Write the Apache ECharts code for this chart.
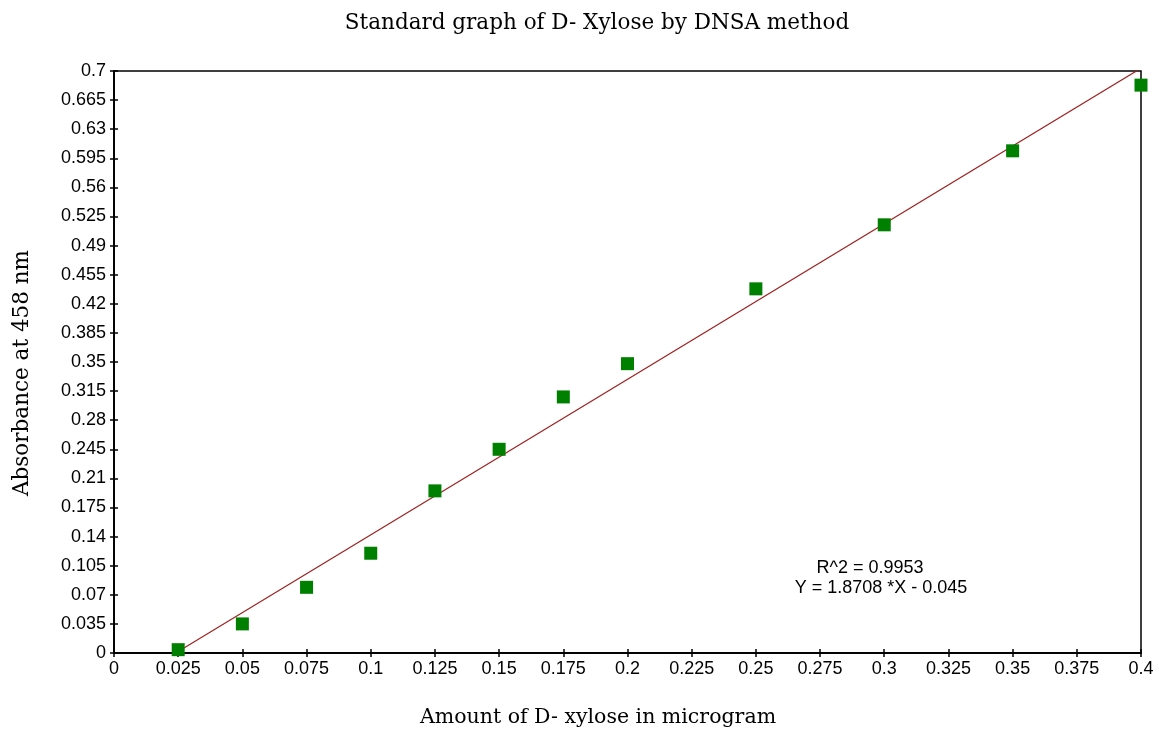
<!DOCTYPE html>
<html><head><meta charset="utf-8">
<script src="https://cdn.jsdelivr.net/npm/echarts@6/dist/echarts.min.js"></script>
<style>html,body{margin:0;padding:0;background:#fff}#c{width:1159px;height:733px}</style>
</head><body><div id="c"></div>
<script>
const xValues = [0.025, 0.05, 0.075, 0.1, 0.125, 0.15, 0.175, 0.2, 0.25, 0.3, 0.35, 0.4];
const absorbance = [0.004, 0.035, 0.079, 0.120, 0.195, 0.245, 0.308, 0.348, 0.438, 0.515, 0.604, 0.683];
const slope = 1.8708, intercept = -0.045;
const fitX = [0.025, 0.4];
const titleText = 'Standard graph of D- Xylose by DNSA method';
const xName = 'Amount of D- xylose in microgram';
const yName = 'Absorbance at 458 nm';
const annot = ['R^2 = 0.9953', 'Y = 1.8708 *X - 0.045'];

const pts = xValues.map((x, i) => [x, absorbance[i]]);
const fit = fitX.map(x => [x, slope * x + intercept]);
const fmt = v => String(parseFloat(v.toFixed(3)));
const serif = '"DejaVu Serif",serif';
const sans = '"Liberation Sans",Arial,sans-serif';

const chart = echarts.init(document.getElementById('c'), null, {renderer: 'canvas'});
const grid = {left: 114, right: 18, top: 71, bottom: 80, show: true, borderColor: '#000', borderWidth: 1.5, backgroundColor: '#fff'};
const axisBase = {
  axisLine: {show: true, onZero: false, lineStyle: {color: '#000', width: 1.5}},
  splitLine: {show: false}
};
chart.setOption({
  animation: false,
  grid: grid,
  xAxis: [
    Object.assign({type: 'value', min: 0, max: 0.4, interval: 0.025,
      axisTick: {show: true, length: 4, lineStyle: {color: '#000', width: 1.5}},
      axisLabel: {formatter: fmt, fontFamily: sans, fontSize: 18, color: '#000', margin: 7}}, axisBase),
    Object.assign({type: 'value', min: 0, max: 0.4, interval: 0.025, position: 'bottom',
      axisTick: {show: true, inside: true, length: 4, lineStyle: {color: '#000', width: 1.5}},
      axisLabel: {show: false}}, axisBase)
  ],
  yAxis: [
    Object.assign({type: 'value', min: 0, max: 0.7, interval: 0.035,
      axisTick: {show: true, length: 4, lineStyle: {color: '#000', width: 1.5}},
      axisLabel: {formatter: fmt, fontFamily: sans, fontSize: 18, color: '#000', margin: 8}}, axisBase),
    Object.assign({type: 'value', min: 0, max: 0.7, interval: 0.035, position: 'left',
      axisTick: {show: true, inside: true, length: 4, lineStyle: {color: '#000', width: 1.5}},
      axisLabel: {show: false}}, axisBase)
  ],
  series: [
    {type: 'line', data: fit, symbol: 'none', clip: true, lineStyle: {color: '#a02020', width: 1.2}, z: 2},
    {type: 'scatter', data: pts, symbol: 'rect', symbolSize: 13, itemStyle: {color: '#008000', opacity: 1}, clip: false, z: 3}
  ],
  graphic: [
    {type: 'text', x: 597, y: 23, style: {text: titleText, fontFamily: serif, fontSize: 21.5, fill: '#000', align: 'center', verticalAlign: 'middle'}},
    {type: 'text', x: 598, y: 718, style: {text: xName, fontFamily: serif, fontSize: 20.5, fill: '#000', align: 'center', verticalAlign: 'middle'}},
    {type: 'text', x: 22, y: 373, rotation: Math.PI / 2, style: {text: yName, fontFamily: serif, fontSize: 21.5, fill: '#000', align: 'center', verticalAlign: 'middle'}},
    {type: 'text', x: 870, y: 568, style: {text: annot[0], fontFamily: sans, fontSize: 18, fill: '#000', align: 'center', verticalAlign: 'middle'}},
    {type: 'text', x: 881, y: 588, style: {text: annot[1], fontFamily: sans, fontSize: 18, fill: '#000', align: 'center', verticalAlign: 'middle'}}
  ]
});
</script></body></html>
